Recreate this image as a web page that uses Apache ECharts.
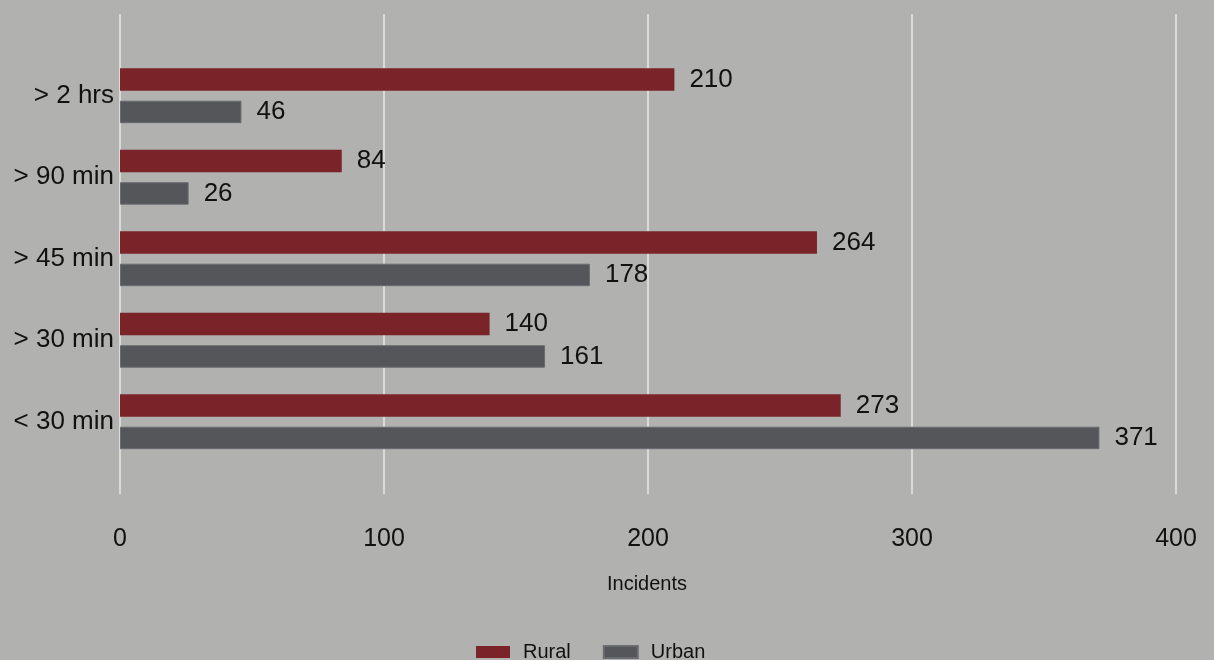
<!DOCTYPE html>
<html>
<head>
<meta charset="utf-8">
<script src="https://cdn.jsdelivr.net/npm/echarts@6/dist/echarts.min.js"></script>
<style>
  html, body { margin: 0; padding: 0; background: #b1b2b0; }
  #chart { width: 1214px; height: 660px; }
</style>
</head>
<body>
<div id="chart"></div>
<script>
// Response-time buckets, listed top to bottom
const categories = ['> 2 hrs', '> 90 min', '> 45 min', '> 30 min', '< 30 min'];
const rural = [210, 84, 264, 140, 273];
const urban = [46, 26, 178, 161, 371];
const xTicks = [0, 100, 200, 300, 400];

const FONT = '"Liberation Sans", Arial, sans-serif';
const BG = '#b1b2b0';
const INK = '#111';

const chart = echarts.init(document.getElementById('chart'));

chart.setOption({
  backgroundColor: BG,
  animation: false,
  textStyle: { fontFamily: FONT },
  graphic: [
    {
      type: 'text',
      left: 607,
      top: 574,
      style: { text: 'Incidents', font: '20px ' + FONT, fill: INK }
    }
  ],
  legend: {
    data: ['Rural', 'Urban'],
    left: 476,
    top: 642,
    padding: 0,
    itemWidth: 34,
    itemHeight: 12,
    itemGap: 32,
    icon: 'rect',
    textStyle: { fontFamily: FONT, fontSize: 20, color: INK, padding: [0, 0, 0, 8] }
  },
  grid: [
    // grid 0 carries the vertical reference lines and tick labels
    { left: 120, right: 38, top: 14, bottom: 166 },
    // grid 1 holds the bars
    { left: 120, right: 38, top: 55, bottom: 197.5 }
  ],
  xAxis: [
    {
      gridIndex: 0,
      type: 'value',
      min: xTicks[0],
      max: xTicks[xTicks.length - 1],
      interval: 100,
      axisLine: { show: false },
      axisTick: { show: false },
      splitLine: { show: true, lineStyle: { color: '#dadada', width: 2 } },
      axisLabel: { margin: 33, fontSize: 25, color: INK, fontFamily: FONT }
    },
    {
      gridIndex: 1,
      type: 'value',
      min: xTicks[0],
      max: xTicks[xTicks.length - 1],
      show: false,
      splitLine: { show: false }
    }
  ],
  yAxis: [
    {
      gridIndex: 0,
      type: 'category',
      data: categories,
      show: false
    },
    {
      gridIndex: 1,
      type: 'category',
      data: categories,
      inverse: true,
      axisLine: { show: false },
      axisTick: { show: false },
      axisLabel: { margin: 6, fontSize: 26, color: INK, fontFamily: FONT, padding: [5, 0, 0, 0] }
    }
  ],
  series: [
    {
      name: 'Rural',
      type: 'bar',
      xAxisIndex: 1,
      yAxisIndex: 1,
      data: rural,
      barWidth: 22.5,
      barGap: '44%',
      itemStyle: { color: '#7a2328' },
      label: { show: true, position: 'right', distance: 15, fontSize: 26, color: INK, fontFamily: FONT }
    },
    {
      name: 'Urban',
      type: 'bar',
      xAxisIndex: 1,
      yAxisIndex: 1,
      data: urban,
      barWidth: 22.5,
      barGap: '44%',
      itemStyle: { color: '#54565a', borderColor: '#6a6c70', borderWidth: 1 },
      label: { show: true, position: 'right', distance: 15, fontSize: 26, color: INK, fontFamily: FONT }
    }
  ]
});
</script>
</body>
</html>
